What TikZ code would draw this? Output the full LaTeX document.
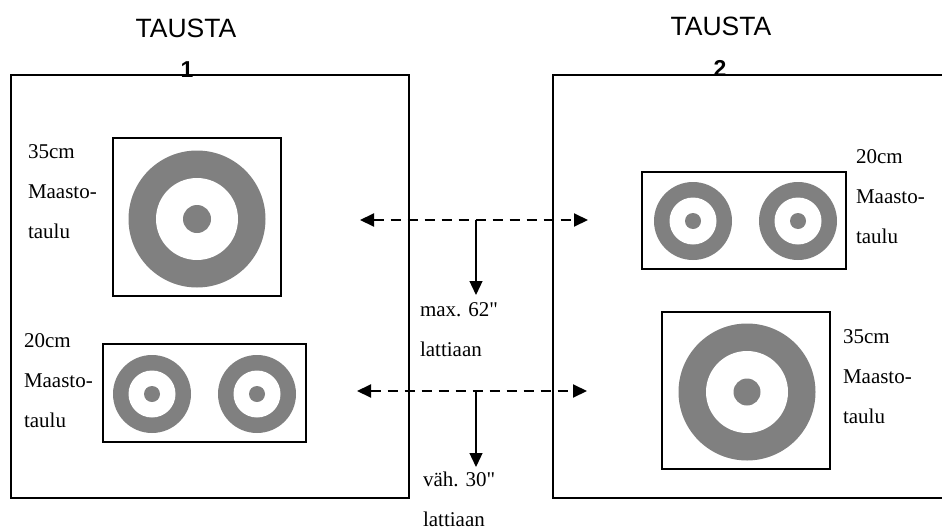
\documentclass[tikz,border=0pt]{standalone}
\usepackage{fontspec}
\setmainfont{Liberation Serif}[Ligatures=TeXOff]
\newfontfamily\arialfont{Liberation Sans}
\usetikzlibrary{arrows.meta}
\definecolor{ringgray}{RGB}{128,128,128}

\begin{document}
\begin{tikzpicture}
  [x=1pt, y=-1pt,
   every node/.style={inner sep=0pt, outer sep=0pt},
   wall/.style={line width=1.5pt},
   board/.style={draw, line width=1.5pt},
   ring/.style={circle, fill=ringgray, minimum size=#1},
   hole/.style={circle, fill=white, minimum size=#1},
   tagtext/.style={font=\fontsize{21}{40}\selectfont, align=left, anchor=base west},
   title/.style={font=\arialfont\fontsize{26.5}{30}\selectfont, anchor=base},
   gap/.style={dash pattern=on 10pt off 7pt, line width=2pt,
               {Triangle[length=14pt,width=13pt]}-{Triangle[length=14pt,width=13pt]}},
   drop/.style={line width=1.3pt, -{Triangle[length=14pt,width=13pt]}}]
  \useasboundingbox (0,0) rectangle (942,530);

  % taustat
  \draw[wall] (11,75) rectangle (409,498);
  \draw[wall] (942,75) -- (553,75) -- (553,498) -- (942,498);
  \node[title] (t1) at (186,37) {TAUSTA};
  \node[title, font=\arialfont\bfseries\fontsize{23}{30}\selectfont] (n1) at (187,77) {1};
  \node[title] (t2) at (721,35) {TAUSTA};
  \node[title, font=\arialfont\bfseries\fontsize{23}{30}\selectfont] (n2) at (720,76) {2};

  % tausta 1
  \node[board, minimum width=168pt, minimum height=158pt] (b1) at (197,217) {};
  \node[ring=137pt] (r1) at (197,219) {};
  \node[hole=82pt] at (r1) {};
  \node[ring=28pt] at (r1) {};
  \node[tagtext] (l1) at (28,238) {35cm\\Maasto-\\taulu};

  \node[board, minimum width=203pt, minimum height=98pt] (b2) at (204.5,393) {};
  \node[ring=78pt] (r2) at (152,394) {};
  \node[hole=47pt] at (r2) {};
  \node[ring=16pt] at (r2) {};
  \node[ring=78pt] (r3) at (257,394) {};
  \node[hole=47pt] at (r3) {};
  \node[ring=16pt] at (r3) {};
  \node[tagtext] (l2) at (24,427) {20cm\\Maasto-\\taulu};

  % tausta 2
  \node[board, minimum width=204pt, minimum height=97pt] (b3) at (744,220.5) {};
  \node[ring=78pt] (r4) at (693,221) {};
  \node[hole=47pt] at (r4) {};
  \node[ring=16pt] at (r4) {};
  \node[ring=78pt] (r5) at (798,221) {};
  \node[hole=47pt] at (r5) {};
  \node[ring=16pt] at (r5) {};
  \node[tagtext] (l3) at (856,243) {20cm\\Maasto-\\taulu};

  \node[board, minimum width=168pt, minimum height=157pt] (b4) at (746,390.5) {};
  \node[ring=137pt] (r6) at (747,392) {};
  \node[hole=82pt] at (r6) {};
  \node[ring=27pt] at (r6) {};
  \node[tagtext] (l4) at (843,423) {35cm\\Maasto-\\taulu};

  % korkeudet
  \coordinate (g1a) at (360,220);
  \coordinate (g1b) at (588,220);
  \coordinate (g1m) at (476,220);
  \coordinate (g1d) at (476,295);
  \coordinate (g2a) at (357,391);
  \coordinate (g2b) at (587,391);
  \coordinate (g2m) at (476,391);
  \coordinate (g2d) at (476,467);
  \draw[gap] (g1a) -- (g1b);
  \draw[drop] (g1m) -- (g1d);
  \draw[gap] (g2a) -- (g2b);
  \draw[drop] (g2m) -- (g2d);
  \node[tagtext] (h1) at (420,356) {max. 62"\\lattiaan};
  \node[tagtext] (h2) at (423,526) {väh. 30"\\lattiaan};
\end{tikzpicture}
\end{document}
